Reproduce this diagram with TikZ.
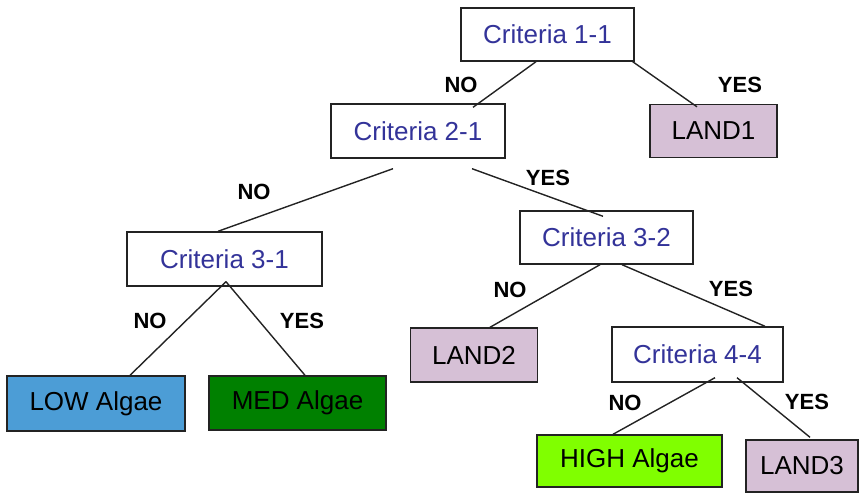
\documentclass[tikz,border=0pt]{standalone}
\usepackage{fontspec}
\setmainfont{Liberation Sans}
\usetikzlibrary{calc}

\definecolor{critblue}{RGB}{51,51,153}
\definecolor{landfill}{RGB}{214,192,214}
\definecolor{lowfill}{RGB}{76,157,214}
\definecolor{medfill}{RGB}{0,128,0}
\definecolor{highfill}{RGB}{128,255,0}
\definecolor{edgegray}{RGB}{35,35,35}

\tikzset{
  box/.style={draw=edgegray, line width=1.4pt, rectangle, inner sep=0pt,
    font=\fontsize{26}{30}\selectfont},
  crit/.style={box, fill=white, text=critblue},
  leaf/.style={box, text=black},
  branch/.style={draw=edgegray, line width=1.4pt},
  answer/.style={font=\bfseries\fontsize{22}{26}\selectfont, text=black, inner sep=0pt}
}

\begin{document}
\begin{tikzpicture}[x=1pt, y=-1pt]
  \useasboundingbox (0,0) rectangle (863,494);

  % decision nodes
  \node[crit, minimum width=173pt, minimum height=53pt] (c11) at (547.5,34.5) {Criteria 1-1};
  \node[crit, minimum width=174pt, minimum height=54pt] (c21) at (418,131) {Criteria 2-1};
  \node[crit, minimum width=195pt, minimum height=54pt] (c31) at (224.5,259) {Criteria 3-1};
  \node[crit, minimum width=173pt, minimum height=53pt] (c32) at (606.5,237.5) {Criteria 3-2};
  \node[crit, minimum width=171pt, minimum height=55pt] (c44) at (697.5,354.5) {Criteria 4-4};

  % outcome nodes
  \node[leaf, fill=landfill, minimum width=127pt, minimum height=53pt] (land1) at (713.5,131) {LAND1};
  \node[leaf, fill=landfill, minimum width=127pt, minimum height=54pt] (land2) at (474,355) {LAND2};
  \node[leaf, fill=landfill, minimum width=112pt, minimum height=52pt] (land3) at (802,466) {LAND3};
  \node[leaf, fill=lowfill, minimum width=178pt, minimum height=55pt] (low) at (96,403.5) {LOW Algae};
  \node[leaf, fill=medfill, minimum width=177pt, minimum height=54pt] (med) at (297.5,403) {MED Algae};
  \node[leaf, fill=highfill, minimum width=185pt, minimum height=52pt] (high) at (629.5,461) {HIGH Algae};

  % branches
  \draw[branch] ($(c11.south)+(-11.5,0)$) -- ($(c21.north)+(55,4)$);
  \draw[branch] ($(c11.south east)+(-2,0)$) -- ($(land1.north)+(-16.5,3)$);
  \draw[branch] ($(c21.south)+(-25,10)$) -- ($(c31.north)+(-6.5,0)$);
  \draw[branch] ($(c21.south)+(54,10)$) -- ($(c32.north)+(-3.5,6)$);
  \draw[branch] ($(c31.south)+(1.5,-5)$) -- ($(low.north)+(34,0)$);
  \draw[branch] ($(c31.south)+(1.5,-5)$) -- ($(med.north)+(7.5,0)$);
  \draw[branch] ($(c32.south)+(-6.5,0)$) -- ($(land2.north)+(16,0)$);
  \draw[branch] ($(c32.south)+(15.5,0)$) -- ($(c44.north)+(67.5,0)$);
  \draw[branch] ($(c44.south)+(17.5,-5)$) -- ($(high.north)+(-16.5,0)$);
  \draw[branch] ($(c44.south)+(39.5,-5)$) -- ($(land3.north)+(8,-2)$);

  % branch answers
  \node[answer] (n1) at (461,85) {NO};
  \node[answer] (y1) at (740,85) {YES};
  \node[answer] (n2) at (254,192) {NO};
  \node[answer] (y2) at (548,178) {YES};
  \node[answer] (n3) at (150,321) {NO};
  \node[answer] (y3) at (302,321) {YES};
  \node[answer] (n4) at (510,290) {NO};
  \node[answer] (y4) at (731,289) {YES};
  \node[answer] (n5) at (625,403) {NO};
  \node[answer] (y5) at (807,402) {YES};
\end{tikzpicture}
\end{document}
